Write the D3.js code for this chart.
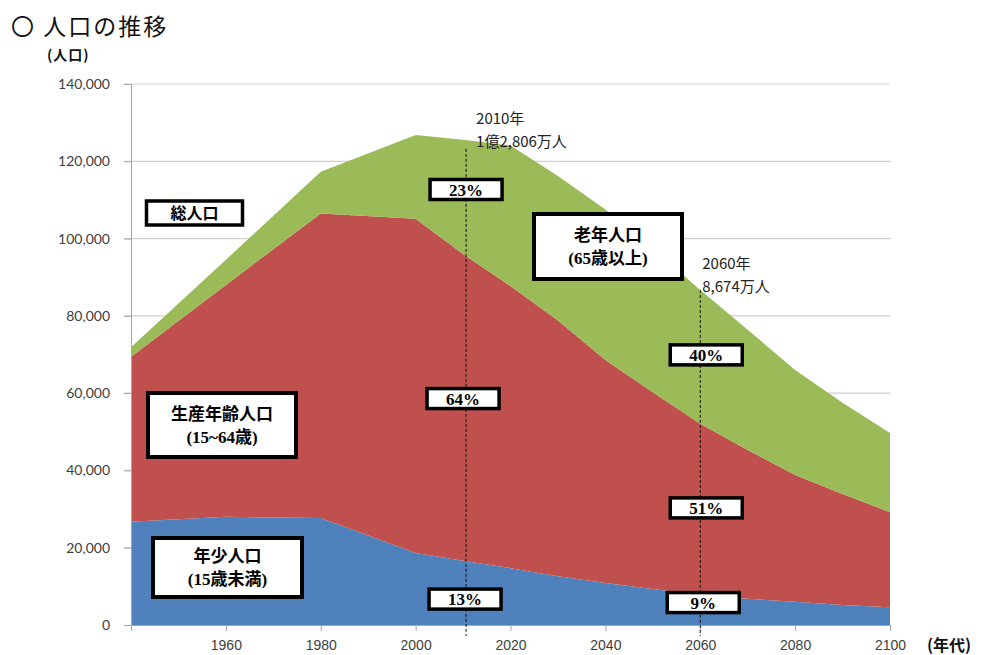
<!DOCTYPE html>
<html>
<head>
<meta charset="utf-8">
<script src="https://cdn.jsdelivr.net/npm/d3@7"></script>
<style>
  body { margin: 0; background: #fff; }
  svg { display: block; }
</style>
</head>
<body>
<svg width="985" height="655"></svg>
<script>
// data (thousand people)
var years   = [1940, 1960, 1980, 2000, 2010, 2020, 2030, 2040, 2050, 2060, 2070, 2080, 2090, 2100];
var young   = [26700, 28000, 27700, 18600, 16600, 14700, 12600, 10900, 9300, 7800, 6800, 6000, 5200, 4600];
var working = [42700, 60000, 78800, 86500, 79400, 73000, 66200, 57700, 50900, 44300, 38500, 32800, 28700, 24600];
var old     = [2500, 6500, 10800, 21700, 29600, 36400, 37400, 38900, 37200, 34600, 31100, 27200, 23600, 20500];

var xTicks = [1960, 1980, 2000, 2020, 2040, 2060, 2080, 2100];
var yTicks = [0, 20000, 40000, 60000, 80000, 100000, 120000, 140000];

var keys = ["young", "working", "old"];
var colors = {young: "#4F81BD", working: "#C0504D", old: "#9BBB59"};

// percent boxes: [year, value at box centre, text, x offset]
var pctLabels = [
  [2010, 112700, "23%", 3],
  [2010, 58600, "64%", 0],
  [2010, 6700, "13%", 2],
  [2060, 69900, "40%", 6],
  [2060, 30300, "51%", 6],
  [2060, 5800, "9%", 3]
];

var svg = d3.select("svg");

var x = d3.scaleLinear().domain([1940, 2100]).range([131, 890]);
var y = d3.scaleLinear().domain([0, 140000]).range([625, 84]);

var table = years.map(function(yr, i) {
  return {year: yr, young: young[i], working: working[i], old: old[i]};
});
var series = d3.stack().keys(keys)(table);

// title
svg.append("text")
  .attr("x", 11).attr("y", 35)
  .attr("font-family", "'Noto Sans CJK JP'")
  .attr("font-size", 23)
  .attr("letter-spacing", 2)
  .attr("fill", "#111")
  .text("〇 人口の推移");
svg.append("text")
  .attr("x", 47).attr("y", 60)
  .attr("font-family", "'Noto Sans CJK JP'")
  .attr("font-weight", "bold")
  .attr("font-size", 14)
  .attr("letter-spacing", 1)
  .attr("fill", "#111")
  .text("(人口)");

// gridlines
svg.append("g").selectAll("line")
  .data(yTicks.filter(function(d) { return d > 0; }))
  .enter().append("line")
  .attr("x1", 124).attr("x2", 890)
  .attr("y1", function(d) { return y(d); })
  .attr("y2", function(d) { return y(d); })
  .attr("stroke", "#d0d0d0")
  .attr("stroke-width", 1.2);

// areas
var area = d3.area()
  .x(function(d) { return x(d.data.year); })
  .y0(function(d) { return y(d[0]); })
  .y1(function(d) { return y(d[1]); });

svg.append("g").selectAll("path")
  .data(series)
  .enter().append("path")
  .attr("d", area)
  .attr("fill", function(d) { return colors[d.key]; });

// y axis
var yAxis = svg.append("g")
  .attr("transform", "translate(131,0)")
  .call(d3.axisLeft(y).tickValues(yTicks).tickSize(7).tickPadding(14)
    .tickFormat(d3.format(",")));
yAxis.select(".domain").attr("stroke", "#a6a6a6");
yAxis.selectAll(".tick line").attr("stroke", "#a6a6a6");
yAxis.selectAll("text")
  .attr("font-family", "Lato, 'Open Sans', sans-serif")
  .attr("font-size", 14)
  .attr("fill", "#404040");

// x axis
var xAxis = svg.append("g")
  .attr("transform", "translate(0,625)")
  .call(d3.axisBottom(x).tickValues([1940].concat(xTicks)).tickSize(6).tickPadding(9)
    .tickFormat(function(d) { return d === 1940 ? "" : d; }));
xAxis.select(".domain").attr("stroke", "#a6a6a6");
xAxis.selectAll(".tick line").attr("stroke", "#a6a6a6");
xAxis.selectAll("text")
  .attr("font-family", "'Liberation Sans Narrow', 'Liberation Sans', sans-serif")
  .attr("font-size", 14)
  .attr("fill", "#404040");

svg.append("text")
  .attr("x", 927).attr("y", 651)
  .attr("font-family", "'Noto Sans CJK JP'")
  .attr("font-weight", "bold")
  .attr("font-size", 16)
  .attr("fill", "#111")
  .text("(年代)");

// dashed reference lines
var refs = [
  {year: 2010, top: 123200, dx: 3, lines: ["2010年", "1億2,806万人"]},
  {year: 2060, top: 86700, dx: 0, lines: ["2060年", "8,674万人"]}
];
refs.forEach(function(r) {
  var lx = x(r.year) + r.dx;
  svg.append("line")
    .attr("x1", lx).attr("x2", lx)
    .attr("y1", y(r.top)).attr("y2", 636)
    .attr("stroke", "#111")
    .attr("stroke-width", 1)
    .attr("stroke-dasharray", "3,2");
  var t = svg.append("text")
    .attr("font-family", "'Noto Sans CJK JP'")
    .attr("font-size", 15)
    .attr("fill", "#222");
  t.selectAll("tspan").data(r.lines).enter().append("tspan")
    .attr("x", lx + (r.year === 2010 ? 10 : 2))
    .attr("y", function(d, i) { return y(r.top) + (r.year === 2010 ? -25 : -21) + i * 23; })
    .text(function(d) { return d; });
});

// boxed labels
function box(cx, cy, w, h, lines, size, sw) {
  var g = svg.append("g");
  g.append("rect")
    .attr("x", cx - w / 2).attr("y", cy - h / 2)
    .attr("width", w).attr("height", h)
    .attr("fill", "#fff")
    .attr("stroke", "#000")
    .attr("stroke-width", sw);
  var lh = size * 1.35;
  g.selectAll("text").data(lines).enter().append("text")
    .attr("x", cx)
    .attr("y", function(d, i) { return cy + (i - (lines.length - 1) / 2) * lh + size * 0.36; })
    .attr("text-anchor", "middle")
    .attr("font-family", "'Liberation Serif', 'Noto Sans CJK JP'")
    .attr("font-weight", "bold")
    .attr("font-size", size)
    .attr("fill", "#000")
    .text(function(d) { return d; });
}

pctLabels.forEach(function(p) {
  box(x(p[0]) + p[3], y(p[1]), 72, 20, [p[2]], 17, 3.5);
});

box(194.5, 213, 96, 24, ["総人口"], 16, 3.5);
box(608, 246.5, 148, 65, ["老年人口", "(65歳以上)"], 17, 4);
box(222, 425, 148, 64, ["生産年齢人口", "(15~64歳)"], 17, 4);
box(227.5, 567.5, 149, 59, ["年少人口", "(15歳未満)"], 17, 4);
</script>
</body>
</html>
